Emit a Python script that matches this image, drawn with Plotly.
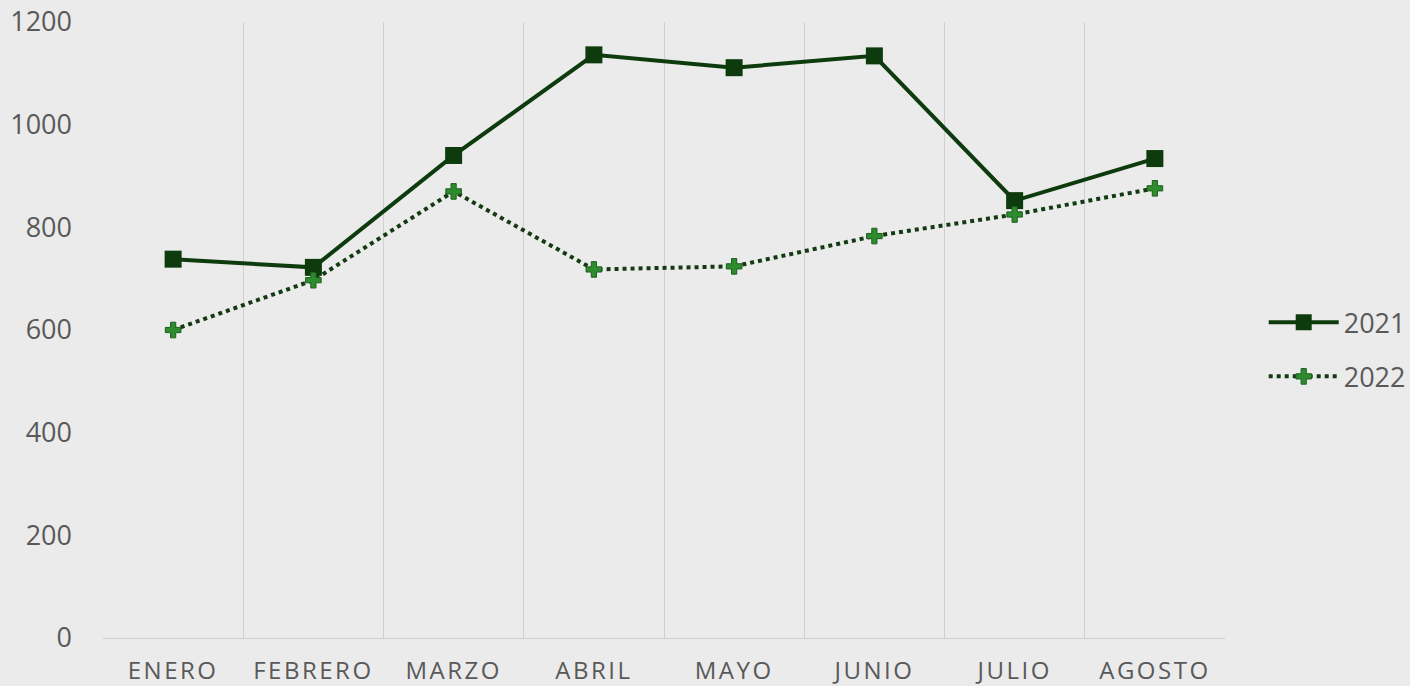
import plotly.graph_objects as go

months = ["ENERO", "FEBRERO", "MARZO", "ABRIL", "MAYO", "JUNIO", "JULIO", "AGOSTO"]
v2021 = [738, 722, 940, 1136, 1111, 1134, 852, 934]
v2022 = [600, 697, 870, 718, 724, 783, 825, 876]
y_ticks = [0, 200, 400, 600, 800, 1000, 1200]

month_text = ['<span style="letter-spacing:2.5px">%s</span>' % m for m in months]

fig = go.Figure()
fig.add_trace(go.Scatter(
    x=months, y=v2021, name="2021", mode="lines+markers", legendgroup="a",
    line=dict(color="#0d3b0d", width=4),
    marker=dict(symbol="square", size=17, color="#0d3b0d"),
))
fig.add_trace(go.Scatter(
    x=months, y=v2022, name="2022", mode="lines+markers", legendgroup="b",
    line=dict(color="#133a13", width=4, dash="dot"),
    marker=dict(symbol="cross", size=13, color="#2e8b2e",
                line=dict(color="#1e5e1e", width=1)),
))

fig.update_layout(
    width=1410, height=686,
    margin=dict(l=103, r=185, t=22, b=48, autoexpand=False),
    paper_bgcolor="#ebebeb", plot_bgcolor="#ebebeb",
    font=dict(family="Open Sans", color="#595959"),
    legend=dict(x=1.0345, y=0.468, yanchor="middle", xanchor="left",
                font=dict(size=27, color="#595959"), itemwidth=70,
                tracegroupgap=16, bgcolor="rgba(0,0,0,0)"),
    showlegend=True,
)
fig.update_xaxes(
    type="category", range=[-0.5, 7.5], tickson="boundaries",
    tickvals=months, ticktext=month_text,
    showgrid=True, gridcolor="#d0d0d0", gridwidth=1,
    showline=True, linecolor="#d0d0d0", linewidth=1,
    ticks="", tickfont=dict(size=24, color="#595959"),
    ticklabelstandoff=11, zeroline=False, automargin=False,
)
fig.update_yaxes(
    range=[0, 1200], tickvals=y_ticks, showgrid=False, zeroline=False,
    showline=False, ticks="", tickfont=dict(size=27, color="#595959"),
    ticklabelstandoff=30, automargin=False, ticklabeloverflow="allow",
)

fig.write_html(
    "out.html",
    config={"displayModeBar": False},
    post_script="document.body.style.margin='0';document.body.style.background='#ebebeb';",
)
